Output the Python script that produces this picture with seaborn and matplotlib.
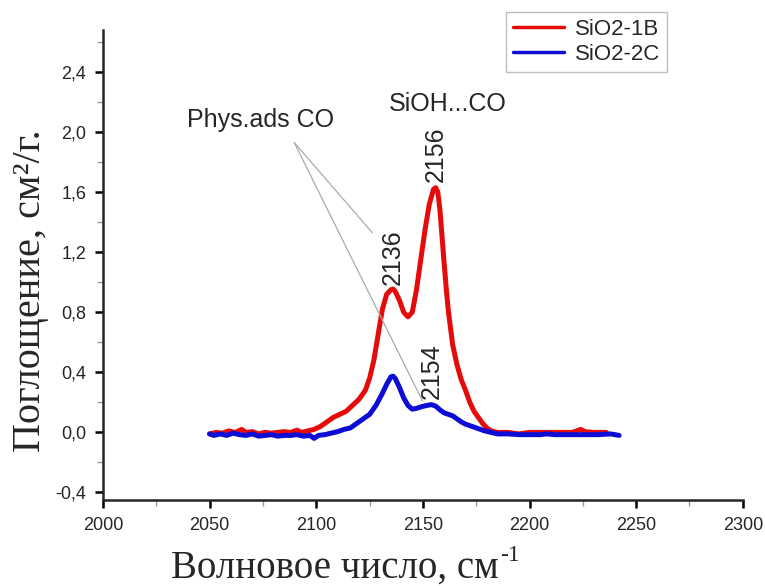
import numpy as np
import pandas as pd
import matplotlib
matplotlib.use("Agg")
import matplotlib.pyplot as plt
from matplotlib.ticker import MultipleLocator, FuncFormatter
import seaborn as sns

# IR spectra of adsorbed CO on two silica samples
wn_1b = [2050, 2053, 2056, 2059, 2062, 2065, 2067, 2070, 2073, 2076, 2079, 2082,
         2085, 2088, 2091, 2093, 2096, 2099, 2102, 2105, 2108, 2111, 2114, 2117,
         2120, 2123, 2125, 2127, 2129, 2131, 2133, 2135, 2136, 2137, 2139, 2141,
         2143, 2145, 2147, 2149, 2151, 2153, 2155, 2156, 2157, 2158, 2159, 2160,
         2161, 2162, 2164, 2166, 2168, 2170, 2172, 2174, 2176, 2178, 2180, 2182,
         2185, 2190, 2195, 2200, 2205, 2210, 2215, 2220, 2224, 2226, 2230, 2236]
abs_1b = [-0.01, 0.0, -0.005, 0.01, 0.0, 0.02, 0.0, 0.005, -0.01, 0.0, -0.005, 0.0,
          0.005, 0.0, 0.015, 0.0, 0.01, 0.02, 0.04, 0.07, 0.10, 0.12, 0.14, 0.18,
          0.22, 0.28, 0.36, 0.48, 0.65, 0.82, 0.92, 0.95, 0.955, 0.94, 0.88, 0.80,
          0.77, 0.80, 0.95, 1.15, 1.35, 1.52, 1.62, 1.63, 1.60, 1.48, 1.30, 1.12,
          0.95, 0.80, 0.58, 0.45, 0.35, 0.28, 0.20, 0.14, 0.10, 0.06, 0.03, 0.01,
          0.0, 0.0, -0.01, 0.0, 0.0, 0.0, 0.0, 0.0, 0.02, 0.005, 0.0, 0.0]

wn_2c = [2050, 2052, 2055, 2058, 2061, 2064, 2067, 2070, 2073, 2076, 2079, 2082,
         2085, 2088, 2091, 2094, 2097, 2099, 2101, 2104, 2107, 2110, 2113, 2116,
         2119, 2122, 2125, 2128, 2131, 2133, 2135, 2136, 2137, 2139, 2141, 2143,
         2145, 2147, 2149, 2152, 2154, 2156, 2158, 2160, 2162, 2164, 2166, 2168,
         2170, 2173, 2176, 2179, 2182, 2185, 2190, 2195, 2200, 2205, 2208, 2212,
         2218, 2225, 2232, 2238, 2242]
abs_2c = [-0.01, -0.02, -0.01, -0.02, -0.005, -0.015, -0.02, -0.01, -0.025, -0.02,
          -0.015, -0.025, -0.02, -0.02, -0.015, -0.025, -0.02, -0.04, -0.02, -0.015,
          -0.005, 0.005, 0.02, 0.03, 0.06, 0.09, 0.12, 0.18, 0.26, 0.32, 0.37, 0.375,
          0.36, 0.30, 0.23, 0.18, 0.155, 0.16, 0.17, 0.18, 0.185, 0.175, 0.15, 0.13,
          0.12, 0.11, 0.09, 0.07, 0.055, 0.04, 0.025, 0.01, 0.0, -0.01, -0.01, -0.015,
          -0.015, -0.015, -0.01, -0.015, -0.015, -0.015, -0.015, -0.01, -0.02]

series_names = ["SiO2-1B", "SiO2-2C"]
series_colors = ["#e50b0b", "#0d0dd6"]

peak_labels = [("2136", 2136, 0.98), ("2156", 2156, 1.67), ("2154", 2154, 0.22)]

df = pd.concat([
    pd.DataFrame({"wn": wn_1b, "A": abs_1b, "sample": series_names[0]}),
    pd.DataFrame({"wn": wn_2c, "A": abs_2c, "sample": series_names[1]}),
], ignore_index=True)

sns.set_style("ticks")
plt.rcParams["font.family"] = ["Liberation Sans", "DejaVu Sans"]

fig = plt.figure(figsize=(7.65, 5.86), dpi=100)
ax = fig.add_axes([0.1346, 0.1468, 0.971 - 0.1346, 0.9488 - 0.1468])

sns.lineplot(data=df, x="wn", y="A", hue="sample", palette=series_colors,
             hue_order=series_names, linewidth=3.6, ax=ax, sort=False,
             estimator=None, legend=True)

ax.set_xlim(2000, 2300)
ax.set_ylim(-0.45, 2.68)
ax.xaxis.set_major_locator(MultipleLocator(50))
ax.xaxis.set_minor_locator(MultipleLocator(25))
ax.yaxis.set_major_locator(MultipleLocator(0.4))
ax.yaxis.set_minor_locator(MultipleLocator(0.2))
ax.yaxis.set_major_formatter(FuncFormatter(lambda v, p: f"{v:.1f}".replace(".", ",")))

for s in ["top", "right"]:
    ax.spines[s].set_visible(False)
for s in ["left", "bottom"]:
    ax.spines[s].set_linewidth(1.8)
ax.tick_params(axis="both", which="major", direction="out", length=6, width=1.8,
               labelsize=13, color="black", pad=6)
ax.tick_params(axis="both", which="minor", direction="out", length=4, width=1.0,
               color="#999999")
ax.set_xlabel("")
ax.set_ylabel("")

serif = ["Liberation Serif", "DejaVu Serif"]

# axis titles, with the exponent set as a small raised text
xl = fig.text(335 / 765, 1 - 578 / 586, "Волновое число, см", family=serif,
              fontsize=28, ha="center", va="baseline")
fig.canvas.draw()
bb = xl.get_window_extent()
fig.text(bb.x1 / fig.bbox.width + 0.002, 1 - 561 / 586, "-1", family=serif,
         fontsize=17, ha="left", va="baseline")

fig.text(31 / 765, 1 - 291 / 586, "Поглощение, см²/г.", family=serif,
         fontsize=29, ha="center", va="center", rotation=90)

for txt, x, y in peak_labels:
    ax.text(x, y, txt, rotation=90, ha="center", va="bottom", fontsize=18)

ax.text(2161.5, 2.19, "SiOH...CO", ha="center", va="center", fontsize=18)
ax.text(2074, 2.08, "Phys.ads CO", ha="center", va="center", fontsize=18)

# pointer lines from the physisorbed CO label to both bands
for tx, ty in [(2126.3, 1.33), (2149.8, 0.21)]:
    ax.plot([2089.7, tx], [1.93, ty], color="#aaaaaa", linewidth=0.9)

leg = ax.legend(loc="upper right", bbox_to_anchor=(667 / 765, 1 - 12 / 586),
                bbox_transform=fig.transFigure, fontsize=16, frameon=True,
                fancybox=False, edgecolor="#b0b0b0", handlelength=2.3,
                borderpad=0.3, labelspacing=0.2, handletextpad=0.5,
                borderaxespad=0)
leg.get_frame().set_linewidth(1.0)
for h in leg.get_lines():
    h.set_linewidth(2.5)

fig.savefig("out.png", dpi=100)
